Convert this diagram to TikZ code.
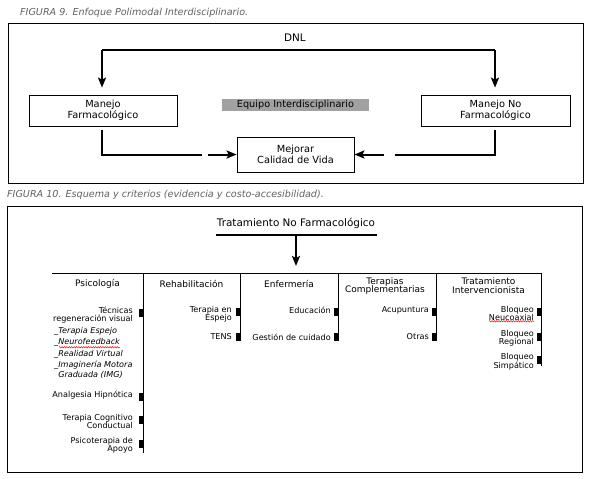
\documentclass[tikz,border=0pt]{standalone}
\usepackage{fontspec}
\setmainfont{DejaVu Sans}
\usetikzlibrary{arrows.meta,decorations.pathmorphing}
\begin{document}
\begin{tikzpicture}[x=1pt,y=-1pt,
  capt/.style={anchor=west,font=\fontsize{9.6}{11}\selectfont\itshape,text=black!62,inner sep=0},
  box9/.style={draw,line width=0.8pt,align=center,font=\fontsize{9.8}{10.5}\selectfont,inner sep=0},
  thk/.style={line width=2pt},
  arr/.style={line width=2pt,-{Stealth[length=10pt,width=8pt,inset=2pt]}},
  itm/.style={anchor=east,align=right,font=\fontsize{8.1}{7.9}\selectfont,inner sep=0},
  itl/.style={anchor=west,align=left,font=\fontsize{8.1}{10.5}\selectfont\itshape,inner sep=0},
  hdr/.style={align=center,font=\fontsize{9}{8.8}\selectfont,inner sep=0},
  mk/.style={fill=black},
  thin10/.style={line width=0.8pt},
  squig/.style={red,line width=0.45pt,decorate,decoration={snake,amplitude=0.7pt,segment length=2.4pt}}
]
\useasboundingbox[fill=white] (0,0) rectangle (595,479);

% ---------- FIGURA 9 ----------
\node[capt] (cap9) at (20,12.5) {FIGURA 9. Enfoque Polimodal Interdisciplinario.};
\draw[line width=0.8pt] (8,23) rectangle (583,183);
\node[font=\fontsize{10.4}{11}\selectfont,inner sep=0] (dnl) at (295,38) {DNL};
\node[box9,minimum width=148pt,minimum height=31pt] (mf) at (103,110.5) {Manejo\\Farmacológico};
\node[box9,minimum width=149pt,minimum height=31pt] (mnf) at (495.5,110.5) {Manejo No\\Farmacológico};
\node[box9,minimum width=117pt,minimum height=35pt] (mej) at (295.5,154.5) {Mejorar\\Calidad de Vida};
\node[fill=black!37,minimum width=147pt,minimum height=12pt,inner sep=0,font=\fontsize{9.7}{10}\selectfont] (eq) at (295.5,105) {Equipo Interdisciplinario};

\coordinate (dl) at (102,50);
\coordinate (dr) at (495,50);
\draw[thk] (dl) -- (dr);
\draw[arr] (dl) -- ([yshift=7pt]mf.north -| dl);
\draw[arr] (dr) -- ([yshift=7pt]mnf.north -| dr);

\coordinate (l1) at (102,130);
\coordinate (l2) at (102,154.5);
\coordinate (l3) at (202,154.5);
\coordinate (l4) at (208,154.5);
\draw[thk] (l1) -- (l2) -- (l3);
\draw[arr] (l4) -- (mej.west);
\coordinate (r1) at (495,130);
\coordinate (r2) at (495,154.5);
\coordinate (r3) at (395,154.5);
\coordinate (r4) at (384,154.5);
\draw[thk] (r1) -- (r2) -- (r3);
\draw[arr] (r4) -- (mej.east);

% ---------- FIGURA 10 ----------
\node[capt] (cap10) at (7,195) {FIGURA 10. Esquema y criterios (evidencia y costo-accesibilidad).};
\draw[line width=0.8pt] (7,206) rectangle (582,472);
\node[font=\fontsize{10.4}{11}\selectfont,inner sep=0] (tnf) at (296,223) {Tratamiento No Farmacológico};
\coordinate (u1) at (216,235);
\coordinate (u2) at (377,235);
\coordinate (um) at (296,235);
\draw[thk] (u1) -- (u2);
\coordinate (bar) at (296,273);
\draw[arr] (um) -- ([yshift=7pt]bar);
\coordinate (h1) at (52,273);
\coordinate (h2) at (541,273);
\draw[thin10] (h1) -- (h2);
\draw[thin10] (143,273) -- (143,453);
\draw[thin10] (240,273) -- (240,341);
\draw[thin10] (338,273) -- (338,341);
\draw[thin10] (436,273) -- (436,341);
\draw[thin10] (541,273) -- (541,366);

% headers
\node[hdr] (hps) at (97.5,284) {Psicología};
\node[hdr] (hre) at (191.5,284) {Rehabilitación};
\node[hdr] (hen) at (289,284) {Enfermería};
\node[hdr] (hte) at (385,286) {Terapias\\Complementarias};
\node[hdr] (hti) at (488.5,286) {Tratamiento\\Intervencionista};

% column 1
\node[itm] (p1) at (133,315.5) {Técnicas\\regeneración visual};
\fill[mk] (139,309) rectangle (143,317);
\node[itl] (p2) at (54,331) {\_Terapia Espejo};
\node[itl] (p3) at (54,342.5) {\_Neurofeedback};
\draw[squig] ([xshift=5pt,yshift=-0.5pt]p3.south west) -- ([yshift=-0.5pt]p3.south east);
\node[itl] (p4) at (54,354) {\_Realidad Virtual};
\node[itl] (p5) at (54,370) {\_Imaginería Motora\\\hphantom{\_}Graduada (IMG)};
\node[itm] (p6) at (133,395.5) {Analgesia Hipnótica};
\fill[mk] (139,393) rectangle (143,401);
\node[itm] (p7) at (133,421.5) {Terapia Cognitivo\\Conductual};
\fill[mk] (139,416) rectangle (143,424);
\node[itm] (p8) at (133,445.5) {Psicoterapia de\\Apoyo};
\fill[mk] (139,440) rectangle (143,448);

% column 2
\node[itm] (r1n) at (232,314) {Terapia en\\Espejo};
\fill[mk] (236,308) rectangle (240,316);
\node[itm] (r2n) at (232,336.5) {TENS};
\fill[mk] (236,333) rectangle (240,341);

% column 3
\node[itm] (e1) at (331,310.5) {Educación};
\fill[mk] (334,308) rectangle (338,316);
\node[itm] (e2) at (331,337) {Gestión de cuidado};
\fill[mk] (334,333) rectangle (338,341);

% column 4
\node[itm] (c1) at (429,310.5) {Acupuntura};
\fill[mk] (432,308) rectangle (436,316);
\node[itm] (c2) at (429,337) {Otras};
\fill[mk] (432,333) rectangle (436,341);

% column 5
\node[itm] (b1) at (534,313.5) {Bloqueo\\Neucoaxial};
\draw[squig] ([yshift=-0.5pt]b1.south west) -- ([yshift=-0.5pt]b1.south east);
\fill[mk] (537,308) rectangle (541,316);
\node[itm] (b2) at (534,338) {Bloqueo\\Regional};
\fill[mk] (537,333) rectangle (541,341);
\node[itm] (b3) at (534,361.5) {Bloqueo\\Simpático};
\fill[mk] (537,356) rectangle (541,364);
\end{tikzpicture}
\end{document}
